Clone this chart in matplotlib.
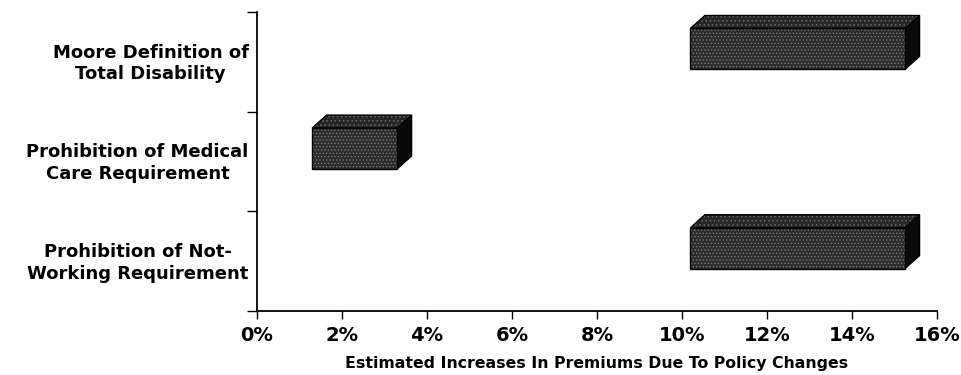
import matplotlib.pyplot as plt
from matplotlib.patches import Polygon
import matplotlib.ticker as mticker

plt.rcParams['font.family'] = ['DejaVu Sans']
plt.rcParams['hatch.linewidth'] = 0.6

# data (percent increase ranges, bottom row first)
categories = ["Prohibition of Not-\nWorking Requirement",
              "Prohibition of Medical\nCare Requirement",
              "Moore Definition of\nTotal Disability"]
low = [10.2, 1.3, 10.2]
high = [15.25, 3.3, 15.25]
xticks = [0, 2, 4, 6, 8, 10, 12, 14, 16]

fig = plt.figure(figsize=(9.62, 3.75), dpi=100)
ax = fig.add_axes([0.267, 0.171, 0.707, 0.797])

ax.set_xlim(0, 16)
ax.set_ylim(0, 3)

bar_h = 0.41
bar_off = 0.63   # bar centre within its band
dx = 0.34        # 3d depth in x (percent)
dy = 0.13        # 3d depth in y (band units)

for i, (lo, hi) in enumerate(zip(low, high)):
    yc = i + bar_off
    y0 = yc - bar_h / 2
    y1 = yc + bar_h / 2
    front = [(lo, y0), (hi, y0), (hi, y1), (lo, y1)]
    top = [(lo, y1), (lo + dx, y1 + dy), (hi + dx, y1 + dy), (hi, y1)]
    side = [(hi, y0), (hi + dx, y0 + dy), (hi + dx, y1 + dy), (hi, y1)]
    ax.add_patch(Polygon(side, closed=True, facecolor='#0a0a0a',
                         edgecolor='black', lw=1, zorder=3))
    ax.add_patch(Polygon(top, closed=True, facecolor='#262626',
                         edgecolor='#6a6a6a', hatch='....', lw=0, zorder=3))
    ax.add_patch(Polygon(top, closed=True, facecolor='none',
                         edgecolor='black', lw=1, zorder=4))
    ax.add_patch(Polygon(front, closed=True, facecolor='#2c2c2c',
                         edgecolor='#7a7a7a', hatch='.....', lw=0, zorder=3))
    ax.add_patch(Polygon(front, closed=True, facecolor='none',
                         edgecolor='black', lw=1, zorder=4))

ax.set_xticks(xticks)
ax.xaxis.set_major_formatter(mticker.FuncFormatter(lambda v, p: f"{int(v)}%"))
ax.set_yticks([0, 1, 2, 3])
ax.set_yticklabels([])
ax.set_yticks([i + 0.52 for i in range(3)], minor=True)
ax.set_yticklabels(categories, minor=True, ha='right', multialignment='center',
                   fontsize=13, fontweight='bold', linespacing=1.25)
ax.tick_params(axis='y', which='minor', length=0, pad=6)
ax.tick_params(axis='y', which='major', length=7, width=1)
ax.tick_params(axis='x', length=6, width=1, pad=5)
for lab in ax.get_xticklabels():
    lab.set_fontsize(14)
    lab.set_fontweight('bold')

for s in ['top', 'right']:
    ax.spines[s].set_visible(False)
ax.spines['left'].set_linewidth(1.3)
ax.spines['bottom'].set_linewidth(1.3)

ax.set_xlabel("Estimated Increases In Premiums Due To Policy Changes",
              fontsize=11.3, fontweight='bold', labelpad=8)

fig.savefig("out.png", dpi=100)
